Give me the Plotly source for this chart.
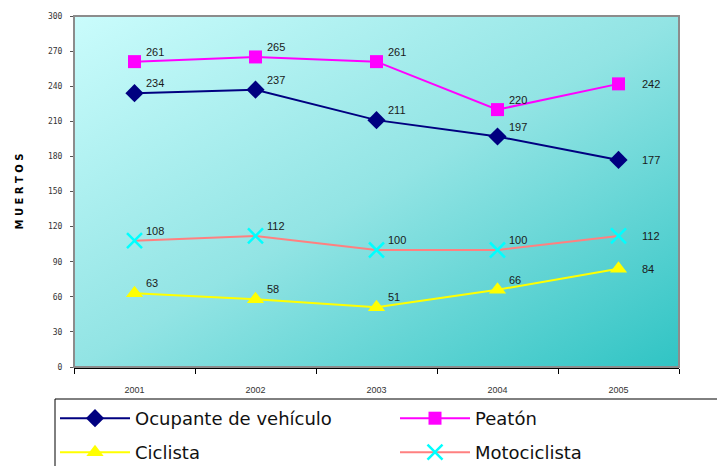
import base64
import plotly.graph_objects as go

years = ["2001", "2002", "2003", "2004", "2005"]
ocupante = [234, 237, 211, 197, 177]
peaton = [261, 265, 261, 220, 242]
ciclista = [63, 58, 51, 66, 84]
motociclista = [108, 112, 100, 100, 112]
y_ticks = [0, 30, 60, 90, 120, 150, 180, 210, 240, 270, 300]

svg = ('<svg xmlns="http://www.w3.org/2000/svg" width="100" height="100" '
       'viewBox="0 0 100 100" preserveAspectRatio="none">'
       '<defs><linearGradient id="g" x1="0" y1="0" x2="1" y2="1">'
       '<stop offset="0" stop-color="#cafcfc"/>'
       '<stop offset="0.5" stop-color="#92e4e4"/>'
       '<stop offset="1" stop-color="#30c4c4"/>'
       '</linearGradient></defs>'
       '<rect width="100" height="100" fill="url(#g)"/></svg>')
svg_uri = "data:image/svg+xml;base64," + base64.b64encode(svg.encode()).decode()

fig = go.Figure()
annotations = []

def add(name, vals, line_color, symbol, mcolor, msize, leg, mline_color=None, mline_w=0):
    fig.add_trace(go.Scatter(
        x=years, y=vals, name=name, mode="lines+markers",
        legend=leg,
        line=dict(color=line_color, width=2),
        marker=dict(symbol=symbol, color=mcolor, size=msize,
                    line=dict(color=mline_color or mcolor, width=mline_w)),
        cliponaxis=False,
    ))
    for i, (yr, v) in enumerate(zip(years, vals)):
        last = i == len(vals) - 1
        annotations.append(dict(
            x=i, y=v, xref="x", yref="y", text=str(v), showarrow=False,
            xanchor="left", yanchor="middle",
            xshift=21 if last else 9, yshift=0 if last else 10,
            font=dict(family="Liberation Sans, Arial", size=11, color="#1a1a1a"),
        ))

add("Ocupante de vehículo", ocupante, "#000080", "diamond", "#000080", 14, "legend")
add("Peatón", peaton, "#ff00ff", "square", "#ff00ff", 13, "legend2")
add("Ciclista", ciclista, "#ffff00", "triangle-up", "#ffff00", 15, "legend3")
add("Motociclista", motociclista, "#ff8080", "x-thin", "#00ffff", 15, "legend4", "#00ffff", 2.5)

# page body has an 8px margin, so the figure is laid out 8px smaller
W, H = 717, 458
L, R, T, B = 66, 46, 8, 99
pw, ph = W - L - R, H - T - B

def px_x(p):
    return (p - L) / pw

def px_y(p):
    return (H - B - p) / ph

leg_common = dict(orientation="h", xanchor="left", yanchor="top",
                  xref="container", yref="container",
                  borderwidth=0, bgcolor="rgba(0,0,0,0)", itemwidth=70,
                  font=dict(size=18, color="#111", family="DejaVu Sans"))

col1, col2 = 47, 387
row1, row2 = 392, 426

fig.update_layout(
    width=W, height=H,
    margin=dict(l=L, r=R, t=T, b=B),
    paper_bgcolor="white",
    plot_bgcolor="rgba(0,0,0,0)",
    font=dict(family="Liberation Sans, Arial", color="#222"),
    annotations=annotations,
    images=[dict(source=svg_uri, xref="paper", yref="paper", x=0, y=1,
                 sizex=1, sizey=1, sizing="stretch", xanchor="left",
                 yanchor="top", layer="below")],
    shapes=[
        dict(type="rect", xref="paper", yref="paper", x0=0, y0=0, x1=1, y1=1,
             line=dict(color="#8c8c8c", width=2), layer="above"),
        dict(type="rect", xref="paper", yref="paper",
             x0=px_x(47), x1=px_x(730), y0=px_y(391), y1=px_y(470),
             line=dict(color="#000", width=1), fillcolor="white", layer="below"),
    ],
    xaxis=dict(type="category", range=[-0.5, 4.5], tickson="boundaries",
               ticks="outside", ticklen=5, tickcolor="#000",
               showline=True, linecolor="#000", linewidth=1.5,
               showgrid=False, zeroline=False, automargin=False,
               ticklabelstandoff=13,
               tickfont=dict(size=9, color="#333")),
    yaxis=dict(range=[0, 300], tickvals=y_ticks, ticks="outside", ticklen=3,
               tickcolor="#555", showline=False, showgrid=False, zeroline=False,
               automargin=False,
               tickfont=dict(size=8, color="#333", family="DejaVu Sans Mono"),
               ticklabelstandoff=6,
               title=dict(text="<b>M U E R T O S</b>", standoff=22,
                          font=dict(size=10, color="#000", family="DejaVu Sans"))),
    showlegend=True,
    legend=dict(x=col1 / W, y=1 - row1 / H, **leg_common),
    legend2=dict(x=col2 / W, y=1 - row1 / H, **leg_common),
    legend3=dict(x=col1 / W, y=1 - row2 / H, **leg_common),
    legend4=dict(x=col2 / W, y=1 - row2 / H, **leg_common),
)

fig.write_html("out.html")
